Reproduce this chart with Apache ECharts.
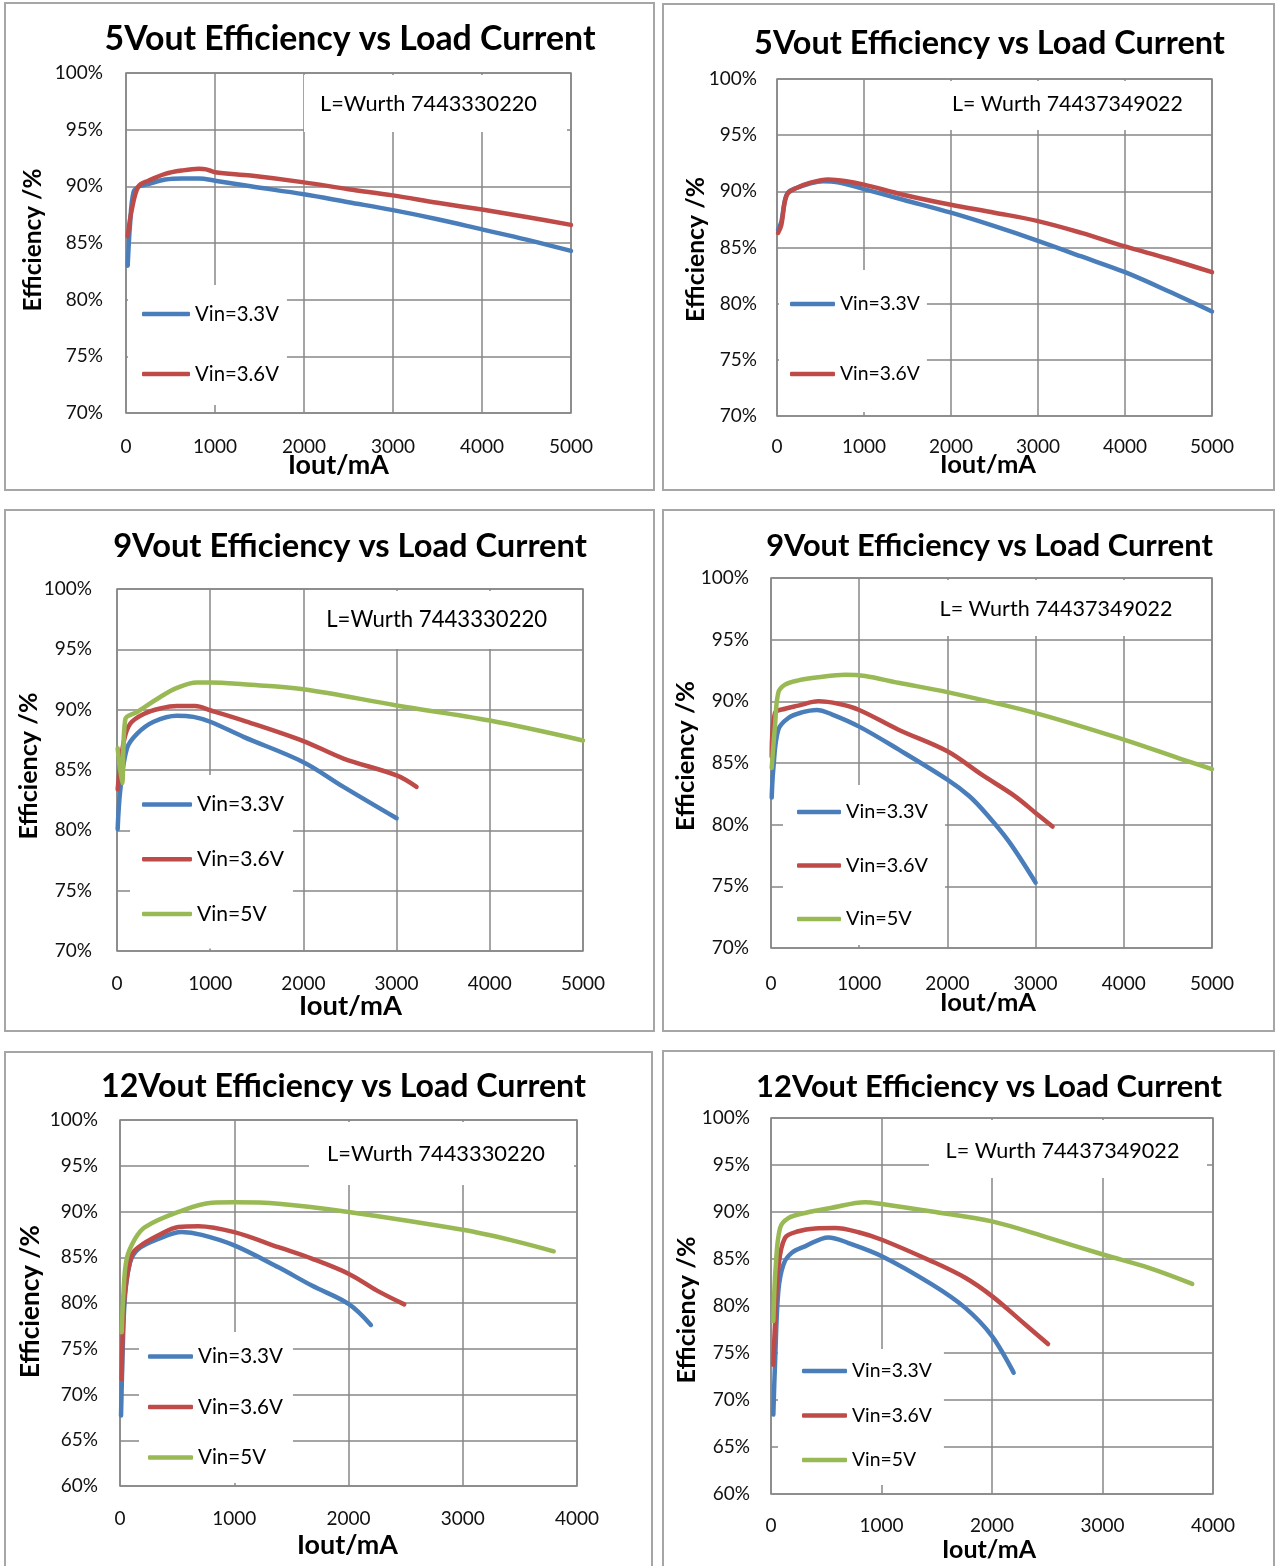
<!DOCTYPE html>
<html><head><meta charset="utf-8">
<script src="https://cdn.jsdelivr.net/npm/echarts@6/dist/echarts.min.js"></script>
<style>html,body{margin:0;padding:0;background:#fff}#c{width:1275px;height:1566px}</style>
</head><body><div id="c"></div>
<script>
// ---------------- DATA ----------------
const seriesNames = ['Vin=3.3V', 'Vin=3.6V', 'Vin=5V'];
const titles = ['5Vout Efficiency vs Load Current', '5Vout Efficiency vs Load Current',
  '9Vout Efficiency vs Load Current', '9Vout Efficiency vs Load Current',
  '12Vout Efficiency vs Load Current', '12Vout Efficiency vs Load Current'];
const notes = ['L=Wurth 7443330220', 'L= Wurth 74437349022', 'L=Wurth 7443330220',
  'L= Wurth 74437349022', 'L=Wurth 7443330220', 'L= Wurth 74437349022'];
const xAxisName = 'Iout/mA';
const yAxisName = 'Efficiency /%';
const yMins = [70, 70, 70, 70, 60, 60];
const xMaxs = [5000, 5000, 5000, 5000, 4000, 4000];

// 5Vout, Wurth 7443330220
const p1_vin33 = [[19,83.0],[45,86.6],[85,89.5],[150,90.0],[250,90.2],[440,90.6],[630,90.7],[820,90.7],[1000,90.5],[1400,90.0],[2000,89.3],[2500,88.6],[3000,87.9],[3500,87.1],[4000,86.2],[4500,85.3],[5000,84.3]];
const p1_vin36 = [[19,85.6],[64,87.9],[140,90.0],[253,90.5],[440,91.1],[630,91.4],[820,91.55],[900,91.5],[1000,91.25],[1400,90.95],[2000,90.35],[2500,89.75],[3000,89.2],[3500,88.55],[4000,87.95],[4500,87.3],[5000,86.6]];
// 5Vout, Wurth 74437349022
const p2_vin33 = [[12,86.6],[50,87.3],[88,89.1],[127,89.9],[223,90.3],[376,90.7],[530,90.9],[700,90.8],[1000,90.2],[1450,89.25],[2000,88.1],[2500,86.9],[3000,85.6],[3500,84.2],[4000,82.8],[4500,81.1],[5000,79.3]];
const p2_vin36 = [[12,86.3],[50,87.0],[88,89.0],[127,89.85],[223,90.3],[376,90.75],[587,91.05],[798,90.9],[1000,90.6],[1450,89.7],[2000,88.8],[2500,88.1],[3000,87.35],[3500,86.3],[4000,85.1],[4500,84.0],[5000,82.8]];
// 9Vout, Wurth 7443330220
const p3_vin33 = [[7,80.1],[36,83.4],[107,86.8],[214,88.0],[393,89.0],[643,89.5],[821,89.4],[1000,89.0],[1357,87.75],[2000,85.65],[2430,83.6],[3000,81.0]];
const p3_vin36 = [[7,83.4],[71,87.3],[143,88.85],[286,89.65],[464,90.1],[643,90.3],[839,90.3],[1000,89.95],[1357,89.1],[2000,87.4],[2430,85.95],[3000,84.55],[3214,83.6]];
const p3_vin5 = [[7,86.8],[54,83.9],[89,89.2],[214,89.8],[464,91.05],[643,91.8],[857,92.25],[1000,92.25],[1357,92.1],[2000,91.7],[3000,90.35],[4000,89.1],[5000,87.45]];
// 9Vout, Wurth 74437349022
const p4_vin33 = [[8,82.2],[26,84.5],[83,87.7],[197,88.65],[348,89.1],[518,89.3],[688,88.95],[1000,87.95],[1445,86.1],[2000,83.65],[2250,82.3],[2450,80.8],[2700,78.6],[3000,75.3]];
const p4_vin36 = [[8,85.5],[45,89.05],[159,89.4],[310,89.65],[537,90.0],[764,89.8],[1000,89.3],[1445,87.7],[2000,85.95],[2390,84.05],[2768,82.3],[3000,80.95],[3192,79.85]];
const p4_vin5 = [[8,84.6],[45,88.0],[83,90.7],[159,91.35],[310,91.7],[537,91.95],[840,92.15],[1067,92.05],[1445,91.5],[2000,90.75],[3000,89.05],[4000,86.9],[4660,85.3],[5000,84.5]];
// 12Vout, Wurth 7443330220
const p5_vin33 = [[9,67.7],[23,74.6],[44,80.8],[88,84.45],[161,85.9],[336,87.0],[540,87.75],[715,87.45],[1000,86.3],[1387,83.9],[1679,81.9],[2000,79.9],[2196,77.6]];
const p5_vin36 = [[15,71.7],[23,76.45],[44,81.2],[102,85.2],[161,86.1],[336,87.4],[511,88.3],[686,88.4],[1000,87.75],[1387,86.1],[1679,84.85],[2000,83.2],[2250,81.35],[2488,79.85]];
const p5_vin5 = [[15,76.8],[29,80.8],[58,84.8],[131,87.0],[219,88.3],[511,89.95],[803,90.95],[1000,91.0],[1387,90.85],[2000,89.95],[3000,88.0],[3431,86.85],[3796,85.65]];
// 12Vout, Wurth 74437349022
const p6_vin33 = [[21,68.45],[36,73.75],[66,81.55],[112,84.4],[187,85.65],[308,86.35],[520,87.3],[701,86.7],[1003,85.3],[1456,82.3],[1758,79.8],[2000,76.8],[2196,72.9]];
const p6_vin36 = [[21,73.75],[36,78.0],[66,84.05],[127,87.25],[248,87.95],[399,88.25],[580,88.3],[792,87.85],[1003,87.05],[1456,84.75],[1758,83.0],[2000,81.05],[2250,78.55],[2507,75.95]];
const p6_vin5 = [[21,78.4],[42,84.05],[82,88.3],[157,89.35],[308,89.9],[550,90.45],[852,91.05],[1003,90.85],[1456,90.05],[2000,89.0],[2513,87.25],[3012,85.45],[3420,84.05],[3812,82.35]];

const panelSeries = [
  [p1_vin33, p1_vin36], [p2_vin33, p2_vin36],
  [p3_vin33, p3_vin36, p3_vin5], [p4_vin33, p4_vin36, p4_vin5],
  [p5_vin33, p5_vin36, p5_vin5], [p6_vin33, p6_vin36, p6_vin5]
];

// ---------------- LAYOUT (pixels) ----------------
const layout = [
  {grid:[126,73,445,340], border:[5,3,649,487], titleC:[350,40], titleW:491,
   noteC:[428.5,104.5], noteW:217, noteBox:[304,75,263,57],
   leg:{left:128, top:285, pad:[19,8,21,14], gap:40, iconW:48, textW:84},
   xName:[338.5,467], xNameW:101, yName:[35.7,240], yNameW:143, yLabM:23, xLabC:446.5},
  {grid:[777,79,435,337], border:[663,4,611,486], titleC:[989.5,45], titleW:471,
   noteC:[1067.4,105], noteW:231, noteBox:[935,81,273,49],
   leg:{left:779, top:270, pad:[24,7,28,11], gap:50, iconW:45, textW:80},
   xName:[988,467], xNameW:96, yName:[699,249.5], yNameW:145, yLabM:20, xLabC:447},
  {grid:[117,589,466,362], border:[5,510,649,521], titleC:[350,547], titleW:474,
   noteC:[436.7,620.5], noteW:221, noteBox:[307,591,273,58],
   leg:{left:130, top:775, pad:[19,9,24,12], gap:33.7, iconW:50, textW:87},
   xName:[350.5,1008], xNameW:103, yName:[31.6,766], yNameW:147, yLabM:25, xLabC:984},
  {grid:[771,578,441,370], border:[663,510,611,521], titleC:[989.5,547], titleW:447,
   noteC:[1056,610.5], noteW:233, noteBox:[925,580,283,56],
   leg:{left:783, top:785, pad:[17,17,16,14], gap:33.5, iconW:44, textW:82},
   xName:[988,1005], xNameW:96, yName:[689,756], yNameW:150, yLabM:22, xLabC:984},
  {grid:[120,1120,457,366], border:[5,1052,647,530], titleC:[343.5,1087.5], titleW:485,
   noteC:[436,1154.5], noteW:218, noteBox:[309,1122,265,63],
   leg:{left:139, top:1332, pad:[14,10,15,9], gap:29.5, iconW:45, textW:85},
   xName:[347.5,1547], xNameW:101, yName:[33.7,1301.5], yNameW:153, yLabM:22, xLabC:1519},
  {grid:[771,1118,442,376], border:[663,1051,611,530], titleC:[989,1088], titleW:466,
   noteC:[1062.5,1152], noteW:234, noteBox:[929,1120,278,58],
   leg:{left:778, top:1349, pad:[12,12,15,24], gap:24.5, iconW:45, textW:80},
   xName:[989,1552], xNameW:94, yName:[689.6,1310], yNameW:147, yLabM:21, xLabC:1525.5}
];

const COLORS = ['#4A7EBB', '#BE4B48', '#98B954'];
const FONT = 'Lato, "Noto Sans", sans-serif';
const GRID_C = '#878787';

const mctx = document.createElement('canvas').getContext('2d');
function fit(text, weight, w) {
  mctx.font = weight + ' 100px Lato';
  return 100 * w / mctx.measureText(text).width;
}

const chart = echarts.init(document.getElementById('c'), null, {renderer: 'canvas', width: 1275, height: 1566});
const option = {animation: false, backgroundColor: '#fff', title: [], grid: [], xAxis: [], yAxis: [], legend: [], series: [], graphic: []};

layout.forEach((L, i) => {
  const [gl, gt, gw, gh] = L.grid;
  // panel border
  option.graphic.push({type: 'rect', silent: true, z: 0,
    shape: {x: L.border[0], y: L.border[1], width: L.border[2], height: L.border[3]},
    style: {fill: 'none', stroke: '#a6a6a6', lineWidth: 2}});
  // title
  const ts = fit(titles[i], 'bold', L.titleW);
  option.title.push({text: titles[i], left: L.titleC[0], top: L.titleC[1] - ts / 2 - 1, textAlign: 'center',
    textVerticalAlign: 'top', padding: 0,
    textStyle: {fontFamily: FONT, fontWeight: 'bold', fontSize: ts, lineHeight: ts, color: '#000'}});
  // note box + text
  const ns = fit(notes[i], 'normal', L.noteW);
  option.graphic.push({type: 'rect', silent: true, z: 5,
    shape: {x: L.noteBox[0], y: L.noteBox[1], width: L.noteBox[2], height: L.noteBox[3]},
    style: {fill: '#fff'}});
  option.graphic.push({type: 'text', silent: true, z: 6, x: L.noteC[0], y: L.noteC[1] - 1,
    style: {text: notes[i], fill: '#000', fontSize: ns, fontFamily: FONT, align: 'center', verticalAlign: 'middle'}});
  // grid
  option.grid.push({left: gl, top: gt, width: gw, height: gh, show: true, borderColor: GRID_C, borderWidth: 1.5,
    backgroundColor: 'transparent', containLabel: false, outerBoundsMode: 'none'});
  const xs = fit(xAxisName, 'bold', L.xNameW);
  const ys = fit(yAxisName, 'bold', L.yNameW);
  const xOff = L.xName[0] - (gl + gw / 2);
  const yOff = L.yName[1] - (gt + gh / 2);
  option.xAxis.push({gridIndex: i, type: 'value', min: 0, max: xMaxs[i], interval: 1000,
    axisLine: {show: false}, axisTick: {show: false},
    splitLine: {show: true, lineStyle: {color: GRID_C, width: 1.5}},
    axisLabel: {formatter: v => String(v), margin: L.xLabC - (gt + gh) - 9.5, color: '#111', fontFamily: FONT, fontSize: 19, lineHeight: 19},
    name: xAxisName, nameLocation: 'middle', nameMoveOverlap: false,
    nameGap: L.xName[1] - 2 - xs / 2 - (gt + gh),
    nameTextStyle: {fontFamily: FONT, fontWeight: 'bold', fontSize: xs, lineHeight: xs, color: '#000',
      padding: xOff < 0 ? [0, -2 * xOff, 0, 0] : [0, 0, 0, 2 * xOff]}});
  option.yAxis.push({gridIndex: i, type: 'value', min: yMins[i], max: 100, interval: 5,
    axisLine: {show: false}, axisTick: {show: false},
    splitLine: {show: true, lineStyle: {color: GRID_C, width: 1.5}},
    axisLabel: {formatter: '{value}%', margin: L.yLabM, color: '#111', fontFamily: FONT, fontSize: 19, lineHeight: 19},
    name: yAxisName, nameLocation: 'middle', nameMoveOverlap: false,
    nameGap: gl - (L.yName[0] - 3 + ys / 2),
    nameTextStyle: {fontFamily: FONT, fontWeight: 'bold', fontSize: ys, lineHeight: ys, color: '#000',
      padding: yOff < 0 ? [0, 0, 0, -2 * yOff] : [0, 2 * yOff, 0, 0]}});
  // series
  const names = [];
  panelSeries[i].forEach((data, k) => {
    names.push(seriesNames[k]);
    option.series.push({type: 'line', name: seriesNames[k], xAxisIndex: i, yAxisIndex: i, data: data,
      showSymbol: false, symbol: 'none', smooth: 0.35, silent: true, z: 3,
      lineStyle: {width: 4.5, color: COLORS[k], cap: 'round', join: 'round'}, itemStyle: {color: COLORS[k]}});
  });
  // legend
  const ls = fit('Vin=3.3V', 'normal', L.leg.textW);
  option.legend.push({data: names, orient: 'vertical', left: L.leg.left, top: L.leg.top, padding: L.leg.pad,
    itemGap: L.leg.gap, itemWidth: L.leg.iconW, itemHeight: 4.5, icon: 'roundRect', backgroundColor: '#fff',
    selectedMode: false, z: 5,
    textStyle: {fontFamily: FONT, fontSize: ls, lineHeight: 20, color: '#000'}});
});

chart.setOption(option);
</script>
</body></html>
